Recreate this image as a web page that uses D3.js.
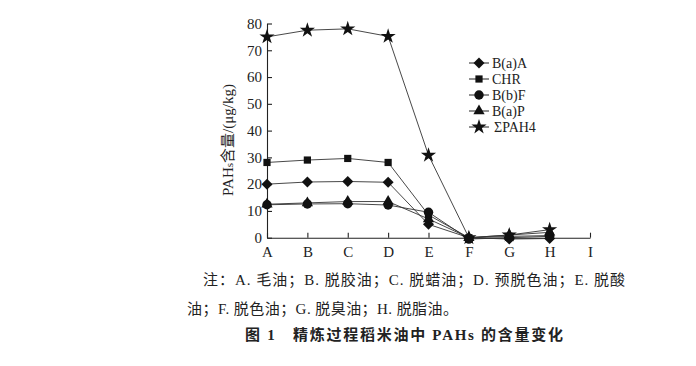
<!DOCTYPE html>
<html><head><meta charset="utf-8">
<script src="https://cdn.jsdelivr.net/npm/d3@7"></script>
<style>body{margin:0;background:#fff}</style>
</head><body>
<svg id="c" width="696" height="366"></svg>
<script>
const categories = ["A","B","C","D","E","F","G","H","I"];
const seriesNames = ["B(a)A","CHR","B(b)F","B(a)P","ΣPAH4"];
const baa  = [20.0, 20.8, 21.0, 20.7, 5.0, 0.0, -0.5, -0.3];
const chr  = [28.1, 29.0, 29.6, 28.1, 8.5, 0.0, 0.5, 0.8];
const bbf  = [12.3, 12.6, 12.7, 12.2, 9.5, -0.5, 0.0, 0.5];
const bap  = [12.5, 13.0, 13.5, 13.5, 7.0, 0.0, 1.0, 2.0];
const sum4 = [75.0, 77.5, 78.0, 75.2, 30.8, 0.0, 1.0, 3.0];
const yTicks = [0,10,20,30,40,50,60,70,80];
const note1 = "注：A. 毛油；B. 脱胶油；C. 脱蜡油；D. 预脱色油；E. 脱酸";
const note2 = "油；F. 脱色油；G. 脱臭油；H. 脱脂油。";
const titleText = "图 1　精炼过程稻米油中 PAHs 的含量变化";

const svg = d3.select("#c");
const serif = "'Liberation Serif','DejaVu Serif','Noto Sans CJK SC',serif";
const cjk = "'Liberation Serif','Noto Sans CJK SC',serif";
const x = d3.scalePoint().domain(categories).range([267, 590]);
const y = d3.scaleLinear().domain([0,80]).range([237.7, 23.5]);
const ink = "#222";

// axes
const xAx = svg.append("g").attr("transform","translate(0,237.7)")
  .call(d3.axisBottom(x).tickSizeInner(-5).tickSizeOuter(0).tickPadding(9));
const yAx = svg.append("g").attr("transform","translate(267,0)")
  .call(d3.axisLeft(y).tickValues(yTicks).tickSizeInner(-5).tickSizeOuter(0).tickPadding(5));
[xAx,yAx].forEach(g=>{
  g.selectAll("path,line").attr("stroke",ink).attr("stroke-width",1.1);
  g.selectAll("text").attr("font-family",serif).attr("font-size",15).attr("fill",ink);
});

// y label
const yl = svg.append("text").attr("transform","translate(233,140) rotate(-90)")
  .attr("text-anchor","middle").attr("font-family",cjk).attr("font-size",15).attr("fill",ink);
yl.append("tspan").text("PAH");
yl.append("tspan").attr("font-size",11).text("s");
yl.append("tspan").text("含量/(μg/kg)");

const diamond = { draw(ctx, size){ const r = Math.sqrt(size/2); ctx.moveTo(0,-r); ctx.lineTo(r,0); ctx.lineTo(0,r); ctx.lineTo(-r,0); ctx.closePath(); } };
const sym = {
  "B(a)A": d3.symbol().type(diamond).size(60),
  "CHR": d3.symbol().type(d3.symbolSquare).size(52),
  "B(b)F": d3.symbol().type(d3.symbolCircle).size(70),
  "B(a)P": d3.symbol().type(d3.symbolTriangle).size(55),
  "ΣPAH4": d3.symbol().type(d3.symbolStar).size(72)
};
const all = [baa, chr, bbf, bap, sum4];
const line = d3.line().x((d,i)=>x(categories[i])).y(d=>y(d));
all.forEach((vals,k)=>{
  svg.append("path").attr("d",line(vals)).attr("fill","none").attr("stroke","#333").attr("stroke-width",0.9);
});
all.forEach((vals,k)=>{
  svg.append("g").selectAll("path").data(vals).join("path")
    .attr("transform",(d,i)=>`translate(${x(categories[i])},${y(d)})`)
    .attr("d",sym[seriesNames[k]]()).attr("fill","#111");
});

// legend
const lg = svg.append("g");
seriesNames.forEach((n,i)=>{
  const yy = 63 + i*16;
  lg.append("line").attr("x1",469).attr("x2",489).attr("y1",yy).attr("y2",yy).attr("stroke","#222").attr("stroke-width",1);
  lg.append("path").attr("transform",`translate(479,${yy})`).attr("d",sym[n]()).attr("fill","#111");
  lg.append("text").attr("x",n==="ΣPAH4"?494:492).attr("y",yy+5).attr("font-family",serif).attr("font-size",14).attr("fill",ink).text(n);
});

// notes
svg.append("text").attr("x",203).attr("y",285).attr("font-family",cjk).attr("font-size",15)
  .attr("fill",ink).attr("textLength",422).attr("lengthAdjust","spacing").text(note1);
svg.append("text").attr("x",187).attr("y",314).attr("font-family",cjk).attr("font-size",15)
  .attr("fill",ink).attr("textLength",271).attr("lengthAdjust","spacing").text(note2);
svg.append("text").attr("x",245).attr("y",340).attr("font-family",cjk).attr("font-size",15)
  .attr("font-weight","bold").attr("fill",ink).attr("textLength",318).attr("lengthAdjust","spacing").text(titleText);
</script>
</body></html>
